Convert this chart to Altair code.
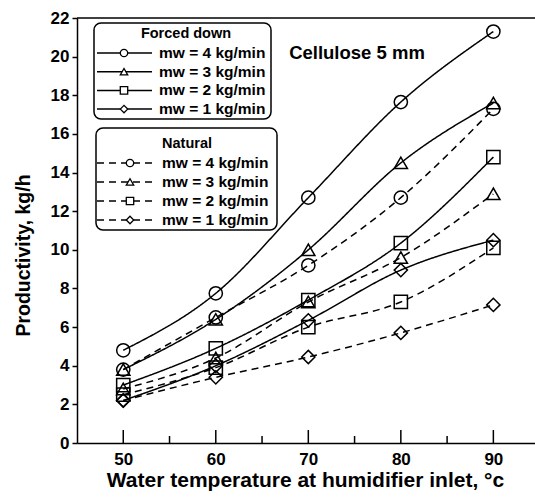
import altair as alt
import pandas as pd

temps = [50, 60, 70, 80, 90]
forced_mw4 = [4.8, 7.75, 12.7, 17.65, 21.3]
forced_mw3 = [3.8, 6.4, 10.0, 14.5, 17.6]
forced_mw2 = [3.0, 4.9, 7.4, 10.35, 14.8]
forced_mw1 = [2.2, 4.0, 6.35, 8.95, 10.5]
natural_mw4 = [3.8, 6.5, 9.2, 12.7, 17.3]
natural_mw3 = [2.8, 4.4, 7.3, 9.6, 12.9]
natural_mw2 = [2.5, 3.9, 6.0, 7.3, 10.1]
natural_mw1 = [2.2, 3.4, 4.45, 5.7, 7.15]

mw_labels = ["mw = 4 kg/min", "mw = 3 kg/min", "mw = 2 kg/min", "mw = 1 kg/min"]
shapes = ["circle", "triangle-up", "square", "diamond"]
major_ticks = [50, 60, 70, 80, 90]
minor_ticks = [55, 65, 75, 85]
y_ticks = list(range(0, 23, 2))

FONT = "Liberation Sans"

rows = []
for grp, series in [("Forced down", [forced_mw4, forced_mw3, forced_mw2, forced_mw1]),
                    ("Natural", [natural_mw4, natural_mw3, natural_mw2, natural_mw1])]:
    for lab, vals in zip(mw_labels, series):
        for t, v in zip(temps, vals):
            rows.append({"temp": t, "prod": v, "group": grp, "mw": lab, "key": grp + lab})
df = pd.DataFrame(rows)

W, H = 458, 425

x_axis = alt.Axis(values=major_ticks, ticks=False, domain=True, domainColor="black", domainWidth=1.5,
                  grid=False, labelOverlap=False,
                  labelFont=FONT, labelFontWeight="bold", labelFontSize=17,
                  labelPadding=8, labelColor="black",
                  title="Water temperature at humidifier inlet, °c",
                  titleFont=FONT, titleFontWeight="bold", titleFontSize=21,
                  titlePadding=2, titleColor="black", titleX=228)
y_axis = alt.Axis(values=y_ticks, tickSize=5, tickColor="black", tickWidth=1.5,
                  domain=True, domainColor="black", domainWidth=1.5,
                  grid=False, labelOverlap=False,
                  labelFont=FONT, labelFontWeight="bold", labelFontSize=17,
                  labelPadding=3, labelColor="black",
                  title="Productivity, kg/h",
                  titleFont=FONT, titleFontWeight="bold", titleFontSize=19.5,
                  titlePadding=17, titleColor="black", titleY=237)

x_enc = alt.X("temp:Q", scale=alt.Scale(domain=[45, 94.5], nice=False), axis=x_axis)
y_enc = alt.Y("prod:Q", scale=alt.Scale(domain=[0, 22], nice=False), axis=y_axis)

dash_scale = alt.Scale(domain=["Forced down", "Natural"], range=[[1, 0], [7, 5]])
shape_scale = alt.Scale(domain=mw_labels, range=shapes)

lines = alt.Chart(df).mark_line(color="black", strokeWidth=1.5, interpolate="monotone").encode(
    x=x_enc, y=y_enc,
    strokeDash=alt.StrokeDash("group:N", scale=dash_scale, legend=None),
    detail="key:N",
)
points = alt.Chart(df).mark_point(color="black", filled=False, strokeWidth=1.5, size=175, opacity=1).encode(
    x=x_enc, y=y_enc,
    shape=alt.Shape("mw:N", scale=shape_scale, legend=None),
)

# inward x ticks
tick_df = pd.DataFrame({"temp": major_ticks + minor_ticks,
                        "kind": ["major"] * len(major_ticks) + ["minor"] * len(minor_ticks)})
maj = alt.Chart(tick_df[tick_df.kind == "major"]).mark_rule(color="black", strokeWidth=1.5).encode(
    x=x_enc, y=alt.value(H), y2=alt.value(H - 13))
mnr = alt.Chart(tick_df[tick_df.kind == "minor"]).mark_rule(color="black", strokeWidth=1.5).encode(
    x=x_enc, y=alt.value(H), y2=alt.value(H - 7))

one = pd.DataFrame({"a": [0]})
top_line = alt.Chart(one).mark_rule(color="black", strokeWidth=1.5).encode(
    x=alt.value(0), x2=alt.value(W + 5), y=alt.value(0))

# legend boxes (pixel coordinates inside plot area)
box1 = alt.Chart(one).mark_rect(fill="white", stroke="black", strokeWidth=1.5, cornerRadius=7).encode(
    x=alt.value(17), x2=alt.value(194), y=alt.value(5), y2=alt.value(101))
box2 = alt.Chart(one).mark_rect(fill="white", stroke="black", strokeWidth=1.5, cornerRadius=7).encode(
    x=alt.value(19), x2=alt.value(200), y=alt.value(110), y2=alt.value(212))

leg_rows = []
for i, lab in enumerate(mw_labels):
    leg_rows.append({"group": "Forced down", "mw": lab, "ly": 35 + i * 18.7, "x0": 20, "x1": 75, "xm": 47, "xt": 82})
    leg_rows.append({"group": "Natural", "mw": lab, "ly": 145 + i * 19, "x0": 20, "x1": 78, "xm": 53, "xt": 85})
leg = pd.DataFrame(leg_rows)

leg_lines = alt.Chart(leg).mark_rule(color="black", strokeWidth=1.5).encode(
    x=alt.X("x0:Q", scale=None, axis=None), x2="x1:Q", y=alt.Y("ly:Q", scale=None, axis=None),
    strokeDash=alt.StrokeDash("group:N", scale=dash_scale, legend=None))
leg_pts = alt.Chart(leg).mark_point(color="black", filled=False, strokeWidth=1.3, size=55, opacity=1, fill="white").encode(
    x=alt.X("xm:Q", scale=None, axis=None), y=alt.Y("ly:Q", scale=None, axis=None),
    shape=alt.Shape("mw:N", scale=shape_scale, legend=None))
leg_txt = alt.Chart(leg).mark_text(font=FONT, fontWeight="bold", fontSize=15.5, align="left", baseline="middle", color="black").encode(
    x=alt.X("xt:Q", scale=None, axis=None), y=alt.Y("ly:Q", scale=None, axis=None), text="mw:N")

titles = pd.DataFrame({"t": ["Forced down", "Natural", "Cellulose 5 mm"],
                       "tx": [109, 110, 280], "ty": [16, 126, 35]})
leg_titles = alt.Chart(titles.iloc[:2]).mark_text(font=FONT, fontWeight="bold", fontSize=14.5, align="center", baseline="middle", color="black").encode(
    x=alt.X("tx:Q", scale=None, axis=None), y=alt.Y("ty:Q", scale=None, axis=None), text="t:N")
annot = alt.Chart(titles.iloc[2:]).mark_text(font=FONT, fontWeight="bold", fontSize=18.5, align="center", baseline="middle", color="black").encode(
    x=alt.X("tx:Q", scale=None, axis=None), y=alt.Y("ty:Q", scale=None, axis=None), text="t:N")

chart = alt.layer(lines, points, maj, mnr, top_line, box1, box2, leg_lines, leg_pts, leg_txt, leg_titles, annot).properties(
    width=W, height=H,
    autosize=alt.AutoSizeParams(type="none"),
    padding={"left": 77, "top": 18, "right": 0, "bottom": 54},
    background="white",
).configure_view(stroke=None).configure_axis(labelOverlap=False)

chart.save("out.html", embed_options={"renderer": "svg", "actions": False})
